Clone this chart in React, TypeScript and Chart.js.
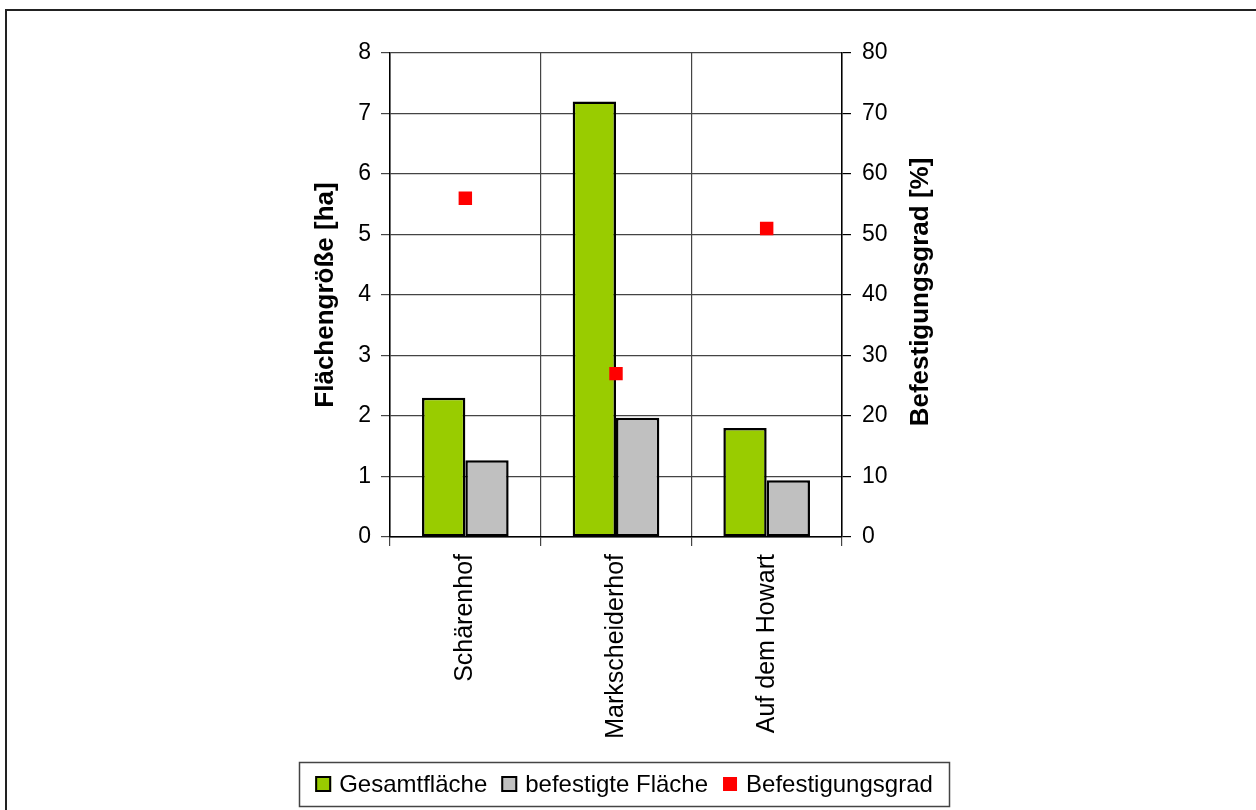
import React, { useEffect, useRef } from "react";
import { Chart, registerables } from "chart.js";

Chart.register(...registerables);

const categories = ["Schärenhof", "Markscheiderhof", "Auf dem Howart"];
const gesamtflaeche = [2.3, 7.2, 1.8];
const befestigteFlaeche = [1.27, 1.97, 0.94];
const befestigungsgrad = [56, 27, 51];
const leftTicks = [0, 1, 2, 3, 4, 5, 6, 7, 8];
const rightTicks = [0, 10, 20, 30, 40, 50, 60, 70, 80];
const seriesNames = ["Gesamtfläche", "befestigte Fläche", "Befestigungsgrad"];
const leftTitle = "Flächengröße [ha]";
const rightTitle = "Befestigungsgrad [%]";

const FONT = "Arial, 'Liberation Sans', sans-serif";
const GREEN = "#99CC00";
const GRAY = "#C0C0C0";
const RED = "#FF0000";
const GRID = "#444444";

const decor = {
  id: "decor",
  beforeDraw(chart: any) {
    const ctx = chart.ctx;
    ctx.save();
    ctx.fillStyle = "#ffffff";
    ctx.fillRect(0, 0, chart.width, chart.height);
    ctx.fillStyle = "#222222";
    ctx.fillRect(5, 9, chart.width, 2);
    ctx.fillRect(5, 9, 2, chart.height);
    ctx.restore();
  },
  afterDraw(chart: any) {
    const ctx = chart.ctx;
    const ca = chart.chartArea;
    ctx.save();
    ctx.fillStyle = "#000";
    ctx.font = `bold 26px ${FONT}`;
    ctx.textAlign = "center";
    ctx.textBaseline = "middle";
    const cy = (ca.top + ca.bottom) / 2;
    ctx.save();
    ctx.translate(ca.left - 64, cy);
    ctx.rotate(-Math.PI / 2);
    ctx.fillText(leftTitle, 0, 0);
    ctx.restore();
    ctx.save();
    ctx.translate(ca.right + 79, cy - 3);
    ctx.rotate(-Math.PI / 2);
    ctx.fillText(rightTitle, 0, 0);
    ctx.restore();

    const boxL = 299, boxT = 762, boxR = 949, boxB = 806;
    ctx.strokeStyle = "#444";
    ctx.lineWidth = 1.5;
    ctx.strokeRect(boxL + 0.5, boxT + 0.5, boxR - boxL, boxB - boxT);
    ctx.font = `24px ${FONT}`;
    ctx.textAlign = "left";
    const colors = [GREEN, GRAY, RED];
    const sw = 16, gapText = 8, gapItem = 14;
    const widths = seriesNames.map((n) => ctx.measureText(n).width);
    const total = widths.reduce((a, b) => a + b, 0) + seriesNames.length * (sw + gapText) + (seriesNames.length - 1) * gapItem;
    let x = (boxL + boxR) / 2 - total / 2;
    const my = 784;
    seriesNames.forEach((n, i) => {
      ctx.fillStyle = colors[i];
      if (i < 2) {
        ctx.fillRect(x, my - 8, sw, sw);
        ctx.strokeStyle = "#000";
        ctx.lineWidth = 2;
        ctx.strokeRect(x + 1, my - 7, sw - 2, sw - 2);
      } else {
        ctx.fillRect(x + 1, my - 7, 14, 14);
      }
      ctx.fillStyle = "#000";
      ctx.fillText(n, x + sw + gapText, my + 1);
      x += sw + gapText + widths[i] + gapItem;
    });
    ctx.restore();
  },
};

export default function App() {
  const ref = useRef<HTMLCanvasElement | null>(null);
  useEffect(() => {
    if (!ref.current) return;
    Chart.defaults.color = "#000";
    const chart = new Chart(ref.current, {
      type: "bar",
      data: {
        labels: categories,
        datasets: [
          {
            type: "line",
            label: seriesNames[2],
            data: befestigungsgrad,
            yAxisID: "y1",
            showLine: false,
            pointStyle: "rect",
            pointRadius: 9.5,
            pointBorderWidth: 0,
            pointBackgroundColor: RED,
            backgroundColor: RED,
            borderColor: RED,
            order: 0,
          } as any,
          {
            type: "bar",
            label: seriesNames[0],
            data: gesamtflaeche,
            yAxisID: "y",
            backgroundColor: GREEN,
            borderColor: "#000",
            borderWidth: 2.5,
            borderSkipped: false,
            categoryPercentage: 0.575,
            barPercentage: 1.0,
            order: 1,
          },
          {
            type: "bar",
            label: seriesNames[1],
            data: befestigteFlaeche,
            yAxisID: "y",
            backgroundColor: GRAY,
            borderColor: "#000",
            borderWidth: 2.5,
            borderSkipped: false,
            categoryPercentage: 0.575,
            barPercentage: 1.0,
            order: 1,
          },
        ],
      },
      options: {
        animation: false,
        responsive: false,
        layout: { padding: { top: 53, left: 0, right: 0, bottom: 0 } },
        plugins: { legend: { display: false }, tooltip: { enabled: false } },
        scales: {
          x: {
            offset: true,
            grid: { offset: true, color: GRID, lineWidth: 1.2, tickLength: 9, drawTicks: true },
            border: { color: "#000", width: 1.5 },
            ticks: { font: { family: FONT, size: 25 }, color: "#000", maxRotation: 90, minRotation: 90, padding: 8 },
            afterFit: (s: any) => { s.height = 810 - 537; },
          },
          y: {
            position: "left",
            min: 0,
            max: 8,
            afterBuildTicks: (s: any) => { s.ticks = leftTicks.map((v) => ({ value: v })); },
            grid: { color: GRID, lineWidth: 1.2, tickLength: 9 },
            border: { color: "#000", width: 1.5 },
            ticks: { font: { family: FONT, size: 23 }, color: "#000", padding: 10 },
            afterFit: (s: any) => { s.width = 390; },
          },
          y1: {
            position: "right",
            min: 0,
            max: 80,
            afterBuildTicks: (s: any) => { s.ticks = rightTicks.map((v) => ({ value: v })); },
            grid: { drawOnChartArea: false, color: "#000", lineWidth: 1.2, tickLength: 9 },
            border: { color: "#000", width: 1.5 },
            ticks: { font: { family: FONT, size: 23 }, color: "#000", padding: 11 },
            afterFit: (s: any) => { s.width = 1256 - 842; },
          },
        },
      },
      plugins: [decor],
    });
    return () => chart.destroy();
  }, []);
  return (
    <div style={{ position: "fixed", left: 0, top: 0, width: 1256, height: 810, background: "#fff" }}>
      <canvas ref={ref} width={1256} height={810} style={{ display: "block" }} />
    </div>
  );
}
